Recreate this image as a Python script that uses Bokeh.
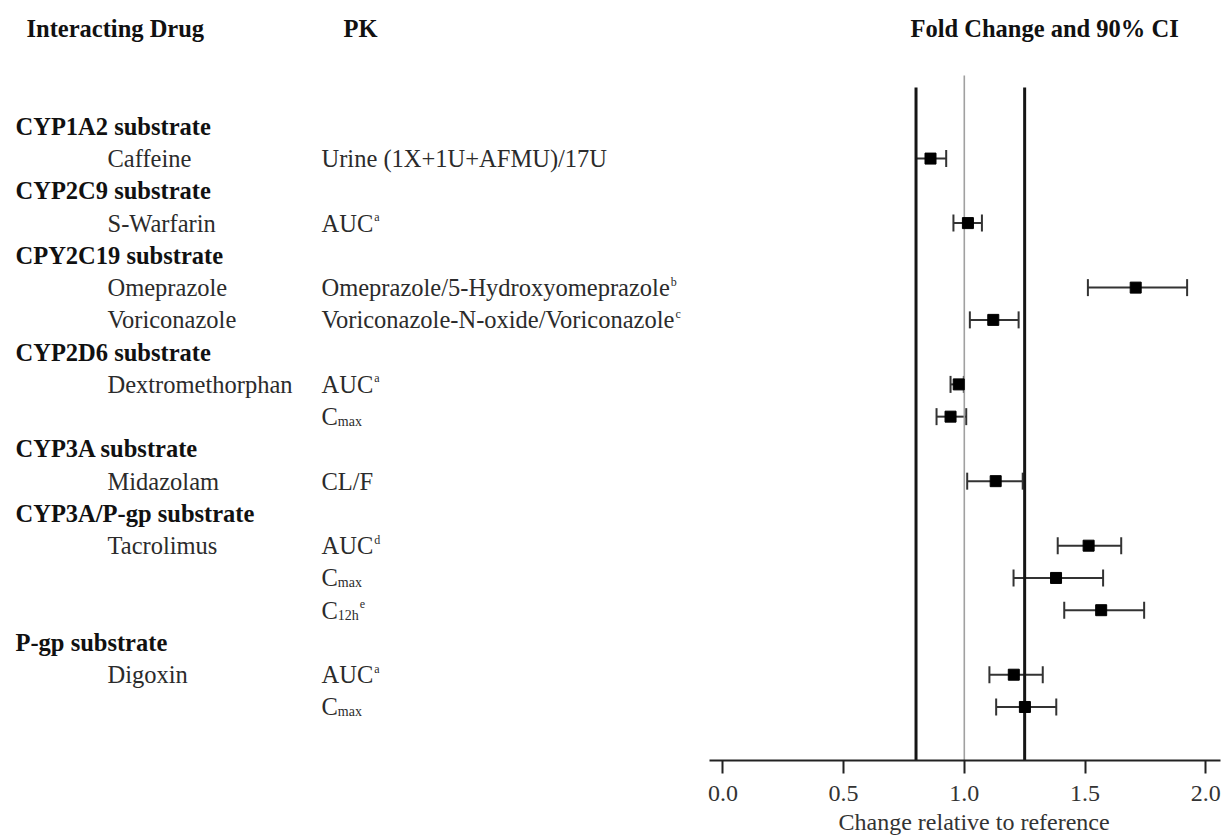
from bokeh.plotting import figure
from bokeh.models import Range1d, FixedTicker, Whisker, TeeHead, ColumnDataSource, NumeralTickFormatter, Title
from bokeh.core.properties import value
from bokeh.embed import file_html
from bokeh.resources import INLINE

# ---------------- data ----------------
headers = ["Interacting Drug", "PK", "Fold Change and 90% CI"]
groups = ["CYP1A2 substrate", "CYP2C9 substrate", "CPY2C19 substrate", "CYP2D6 substrate",
          "CYP3A substrate", "CYP3A/P-gp substrate", "P-gp substrate"]
group_sizes = [1, 1, 2, 2, 1, 3, 2]
drugs = ["Caffeine", "S-Warfarin", "Omeprazole", "Voriconazole", "Dextromethorphan", "",
         "Midazolam", "Tacrolimus", "", "", "Digoxin", ""]
pk_main = ["Urine (1X+1U+AFMU)/17U", "AUC", "Omeprazole/5-Hydroxyomeprazole",
           "Voriconazole-N-oxide/Voriconazole", "AUC", "C", "CL/F", "AUC", "C", "C", "AUC", "C"]
pk_sub = ["", "", "", "", "", "max", "", "", "max", "12h", "", "max"]
pk_sup = ["", "a", "b", "c", "a", "", "", "d", "", "e", "a", ""]
fold = [0.86, 1.015, 1.71, 1.12, 0.977, 0.943, 1.13, 1.515, 1.38, 1.567, 1.205, 1.251]
ci_low = [0.80, 0.955, 1.512, 1.023, 0.943, 0.885, 1.012, 1.387, 1.204, 1.414, 1.104, 1.132]
ci_high = [0.925, 1.073, 1.923, 1.225, 0.998, 1.008, 1.242, 1.650, 1.575, 1.745, 1.325, 1.381]
ref_lines = [0.8, 1.25]
unity_line = [1.0]
x_ticks = [0.0, 0.5, 1.0, 1.5, 2.0]
axis_title = "Change relative to reference"

# ---------------- layout helpers ----------------
W, H = 1224, 837
X0_PX, PX_PER_UNIT = 722.4, 241.4
ROW0_PX, ROW_PX = 126.0, 32.3
FRAME_BOTTOM = 761

def xpx(px):
    return (px - X0_PX) / PX_PER_UNIT

def ypx(py):
    return (py - ROW0_PX) / ROW_PX

TIMES_W = {"A": 722, "U": 722, "C": 667, "O": 722, "m": 778, "e": 444, "p": 500, "r": 333,
           "a": 444, "z": 444, "o": 500, "l": 278, "/": 278, "5": 500, "-": 333, "H": 722,
           "y": 500, "d": 500, "x": 500, "V": 722, "i": 278, "c": 444, "n": 500, "N": 722,
           "1": 500, "2": 500, "h": 500}
KERN = {"Vo": -129}

def tw(s, size):
    w = sum(TIMES_W.get(ch, 500) for ch in s)
    w += sum(KERN.get(s[i:i + 2], 0) for i in range(len(s) - 1))
    return w / 1000.0 * size

group_rows, item_rows = [], []
r = 0
for n in group_sizes:
    group_rows.append(r)
    r += 1
    for _ in range(n):
        item_rows.append(r)
        r += 1

FONT = value("Liberation Serif")
BASE = 24.5
BOLD = "24.5px"
SUB = 14
SUPS = 12
BOLD_C = "#111111"
REG_C = "#2b2b2b"

p = figure(width=W, height=H,
           x_range=Range1d(-X0_PX / PX_PER_UNIT, (W - X0_PX) / PX_PER_UNIT),
           y_range=Range1d((FRAME_BOTTOM - ROW0_PX) / ROW_PX, -ROW0_PX / ROW_PX),
           output_backend="svg", toolbar_location=None, y_axis_location=None,
           min_border_left=0, min_border_right=0, min_border_top=0,
           min_border_bottom=H - FRAME_BOTTOM)
p.outline_line_color = None
p.grid.visible = False
p.background_fill_color = "white"
p.border_fill_color = "white"

# reference lines
bottom = (FRAME_BOTTOM - ROW0_PX) / ROW_PX
p.segment(x0=unity_line, y0=[ypx(75)], x1=unity_line, y1=[bottom], line_width=1.6, line_color="#a0a0a0")
p.segment(x0=ref_lines, y0=[ypx(87)] * 2, x1=ref_lines, y1=[bottom] * 2, line_width=3, line_color="#151515")

src = ColumnDataSource(dict(y=item_rows, fold=fold, lo=ci_low, hi=ci_high))
wh = Whisker(base="y", lower="lo", upper="hi", dimension="width", source=src,
             line_width=2, line_color="#333333",
             upper_head=TeeHead(size=17, line_width=2, line_color="#333333"),
             lower_head=TeeHead(size=17, line_width=2, line_color="#333333"))
p.add_layout(wh)
p.scatter(x="fold", y="y", marker="square", size=11, fill_color="black", line_color="black", source=src)

# headers
hx = [xpx(26), xpx(343), xpx(910)]
p.text(x=hx, y=[ypx(28)] * 3, text=headers, text_font=FONT, text_font_style="bold",
       text_font_size=BOLD, text_baseline="middle", text_color=BOLD_C)

# group labels
p.text(x=[xpx(15)] * len(groups), y=group_rows, text=groups, text_font=FONT, text_font_style="bold",
       text_font_size=BOLD, text_baseline="middle", text_color=BOLD_C)

# drug names
d_rows = [item_rows[i] for i, d in enumerate(drugs) if d]
d_txt = [d for d in drugs if d]
p.text(x=[xpx(107)] * len(d_txt), y=d_rows, text=d_txt, text_font=FONT, text_font_size=f"{BASE}px",
       text_baseline="middle", text_color=REG_C)

# PK labels
pk_x = xpx(321)
p.text(x=[pk_x] * len(pk_main), y=item_rows, text=pk_main, text_font=FONT, text_font_size=f"{BASE}px",
       text_baseline="middle", text_color=REG_C)

sub_i = [i for i, s in enumerate(pk_sub) if s]
p.text(x=[pk_x] * len(sub_i), y=[item_rows[i] for i in sub_i], text=[pk_sub[i] for i in sub_i],
       x_offset=[tw(pk_main[i], BASE) for i in sub_i], y_offset=5,
       text_font=FONT, text_font_size=f"{SUB}px", text_baseline="middle", text_color=REG_C)

sup_i = [i for i, s in enumerate(pk_sup) if s]
p.text(x=[pk_x] * len(sup_i), y=[item_rows[i] for i in sup_i], text=[pk_sup[i] for i in sup_i],
       x_offset=[tw(pk_main[i], BASE) + tw(pk_sub[i], SUB) + 1 for i in sup_i], y_offset=-6,
       text_font=FONT, text_font_size=f"{SUPS}px", text_baseline="middle", text_color=REG_C)

# x axis
ax = p.xaxis[0]
ax.bounds = (-0.057, 2.06)
ax.ticker = FixedTicker(ticks=x_ticks, minor_ticks=[])
ax.formatter = NumeralTickFormatter(format="0.0")
ax.major_tick_out = 13
ax.major_tick_in = 0
ax.minor_tick_out = 0
ax.minor_tick_in = 0
ax.axis_line_width = 2
ax.axis_line_color = "#222222"
ax.major_tick_line_width = 2
ax.major_tick_line_color = "#222222"
ax.major_label_text_font = "Liberation Serif"
ax.major_label_text_font_size = "24px"
ax.major_label_text_color = "#333333"
ax.major_label_standoff = 12

# axis title, centred under the bounded axis
xt = Title(text=axis_title, align="left", offset=838, standoff=6,
           text_font="Liberation Serif", text_font_size="24px", text_font_style="normal",
           text_color="#333333")
p.add_layout(xt, "below")

open("out.html", "w").write(file_html(p, INLINE))
